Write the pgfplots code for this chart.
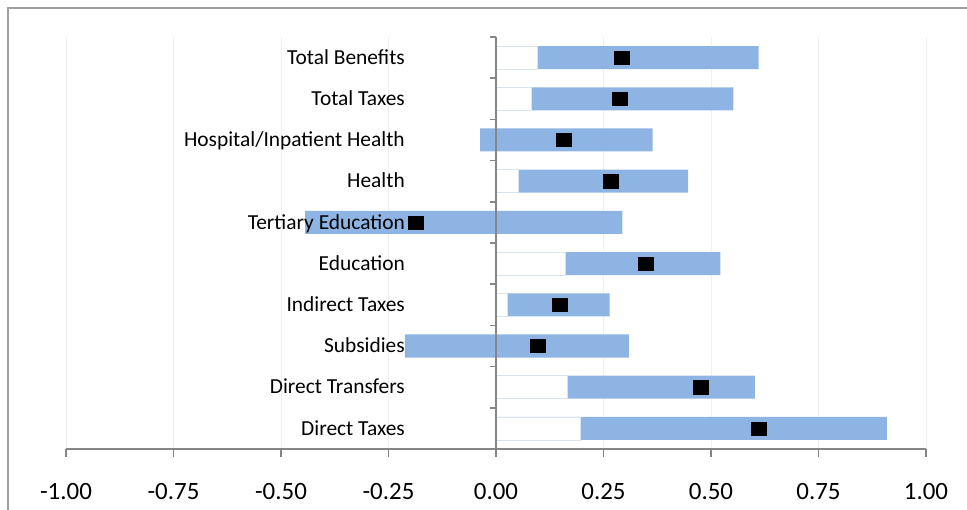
\documentclass[border=0pt]{standalone}
\usepackage{pgfplots}
\pgfplotsset{compat=1.18}
\usepackage{pgfplotstable}
\usepackage{fontspec}
\setmainfont{Carlito}

\definecolor{barblue}{RGB}{142,180,227}
\definecolor{baredge}{RGB}{218,227,240}
\definecolor{axisgray}{RGB}{134,134,134}
\definecolor{framegray}{RGB}{160,160,160}

% lower bound, upper bound and point estimate for each component
\pgfplotstableread{
idx lo     hi    est
0   0.195  0.909  0.612
1   0.165  0.602  0.477
2  -0.212  0.309  0.098
3   0.026  0.264  0.147
4   0.160  0.522  0.349
5  -0.444  0.294 -0.186
6   0.051  0.447  0.267
7  -0.037  0.364  0.158
8   0.081  0.552  0.288
9   0.095  0.611  0.293
}\ranges

\pgfplotsset{
  common/.style={
    width=860bp, height=412bp, scale only axis,
    xmin=-1, xmax=1, ymin=-0.5, ymax=9.5,
    clip=false,
  },
}

\begin{document}
\begin{tikzpicture}
\useasboundingbox (-66bp,-61bp) rectangle (901bp,449bp);
\draw[framegray, line width=1.5bp] (-58bp,-61bp) -- (-58bp,441bp) -- (901bp,441bp);

% range bars: blue from the lower to the upper bound, white from 0 up to a positive lower bound
\begin{axis}[common,
  xbar, bar width=23bp, bar shift=0pt,
  axis x line*=bottom, axis y line=none,
  xtick={-1,-0.75,-0.5,-0.25,0,0.25,0.5,0.75,1},
  xticklabel={\pgfmathprintnumber[fixed,fixed zerofill,precision=2,assume math mode=true]{\tick}},
  xticklabel style={font=\fontsize{25}{30}\selectfont, anchor=base, yshift=-42.7bp},
  ytick=\empty,
  xmajorgrids,
  major grid style={gray!12, line width=0.8bp},
  xtick align=outside, major tick length=8bp,
  axis line style={axisgray, line width=1.6bp},
  tick style={axisgray, line width=1.6bp},
]
\addplot[fill=barblue, draw=none] table[x=hi, y=idx]{\ranges};
\addplot[fill=barblue, draw=none] table[x expr={min(\thisrow{lo},0)}, y=idx]{\ranges};
\addplot[fill=white, draw=baredge, line width=0.6bp] table[x expr={max(\thisrow{lo},0)}, y=idx]{\ranges};
\end{axis}

% vertical axis at zero, category names and point estimates
\begin{axis}[common, hide axis]
\draw[axisgray, line width=1.6bp] (axis cs:0,-0.5) -- (axis cs:0,9.5);
\pgfplotsinvokeforeach{-0.5,0.5,1.5,2.5,3.5,4.5,5.5,6.5,7.5,8.5,9.5}{
  \draw[axisgray, line width=1.6bp] (axis cs:0,#1) -- ([xshift=-6bp]axis cs:0,#1);
}
\begin{scope}[every node/.style={anchor=base east, inner sep=0pt, yshift=-6.8bp,
    font=\fontsize{21.5}{25}\selectfont}]
\node at (axis cs:-0.2116,9) {Total Benefits};
\node at (axis cs:-0.2116,8) {Total Taxes};
\node at (axis cs:-0.2116,7) {Hospital/Inpatient Health};
\node at (axis cs:-0.2116,6) {Health};
\node at (axis cs:-0.2116,5) {Tertiary Education};
\node at (axis cs:-0.2116,4) {Education};
\node at (axis cs:-0.2116,3) {Indirect Taxes};
\node at (axis cs:-0.2116,2) {Subsidies};
\node at (axis cs:-0.2116,1) {Direct Transfers};
\node at (axis cs:-0.2116,0) {Direct Taxes};
\end{scope}
\addplot[only marks, mark=square*, mark size=7bp,
  mark options={fill=black, draw=black, xscale=1.07, yscale=0.93}]
  table[x=est, y=idx]{\ranges};
\end{axis}
\end{tikzpicture}
\end{document}
